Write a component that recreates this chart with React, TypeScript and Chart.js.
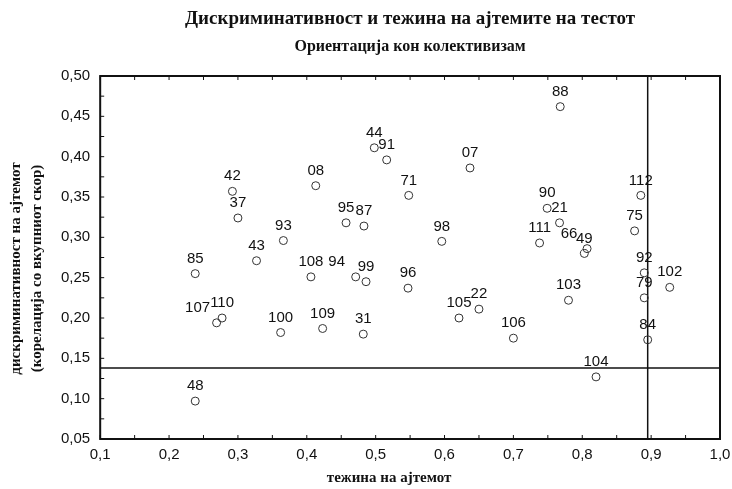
import React, { useEffect, useRef } from "react";
import { Chart, registerables } from "chart.js";

Chart.register(...registerables);

const itemLabels = ["44", "91", "42", "08", "37", "95", "87", "93", "43", "85", "108", "94", "99", "107", "110", "100", "109", "31", "48", "88", "07", "71", "112", "90", "21", "75", "98", "111", "66", "49", "92", "102", "79", "96", "103", "22", "105", "106", "84", "104"];
const difficulty = [0.498, 0.516, 0.292, 0.413, 0.300, 0.457, 0.483, 0.366, 0.327, 0.238, 0.406, 0.471, 0.486, 0.269, 0.277, 0.362, 0.423, 0.482, 0.238, 0.768, 0.637, 0.548, 0.885, 0.749, 0.767, 0.876, 0.596, 0.738, 0.807, 0.803, 0.890, 0.927, 0.890, 0.547, 0.780, 0.650, 0.621, 0.700, 0.895, 0.820];
const discrimination = [0.411, 0.396, 0.357, 0.364, 0.324, 0.318, 0.314, 0.296, 0.271, 0.255, 0.251, 0.251, 0.245, 0.194, 0.200, 0.182, 0.187, 0.180, 0.097, 0.462, 0.386, 0.352, 0.352, 0.336, 0.318, 0.308, 0.295, 0.293, 0.286, 0.280, 0.256, 0.238, 0.225, 0.237, 0.222, 0.211, 0.200, 0.175, 0.173, 0.127];

const discriminationCutoff = 0.138;
const difficultyCutoff = 0.895;
const xRange = [0.1, 1.0];
const yRange = [0.05, 0.5];

const titleText = "Дискриминативност и тежина на ајтемите на тестот";
const subtitleText = "Ориентација кон колективизам";
const xTitle = "тежина на ајтемот";
const yTitle = ["дискриминативност на ајтемот", "(корелација со вкупниот скор)"];

// label nudges (px) for crowded labels
const labelShift: Record<string, number> = { "107": -19, "66": -18, "94": -19 };

const SANS = "'Liberation Sans', Arial, sans-serif";
const SERIF = "'Liberation Serif', 'Times New Roman', serif";

const pointLabelsPlugin = {
  id: "pointLabels",
  afterDatasetsDraw(chart: any) {
    const meta = chart.getDatasetMeta(0);
    const ctx = chart.ctx;
    ctx.save();
    ctx.font = `15px ${SANS}`;
    ctx.fillStyle = "#111";
    ctx.textAlign = "center";
    ctx.textBaseline = "middle";
    meta.data.forEach((pt: any, i: number) => {
      const lab = itemLabels[i];
      const dx = labelShift[lab] || 0;
      ctx.fillText(lab, pt.x + dx, pt.y - 15);
    });
    ctx.restore();
  },
};

const framePlugin = {
  id: "frame",
  afterDraw(chart: any) {
    const { ctx, chartArea: a, scales } = chart;
    ctx.save();
    ctx.strokeStyle = "#111";
    ctx.lineWidth = 2;
    ctx.strokeRect(a.left, a.top, a.right - a.left, a.bottom - a.top);
    ctx.lineWidth = 1;
    ctx.beginPath();
    for (let v = xRange[0]; v <= xRange[1] + 1e-9; v += 0.05) {
      const x = scales.x.getPixelForValue(v);
      ctx.moveTo(x, a.bottom);
      ctx.lineTo(x, a.bottom - 4);
      ctx.moveTo(x, a.top);
      ctx.lineTo(x, a.top + 4);
    }
    for (let v = yRange[0]; v <= yRange[1] + 1e-9; v += 0.025) {
      const y = scales.y.getPixelForValue(v);
      ctx.moveTo(a.left, y);
      ctx.lineTo(a.left + 4, y);
    }
    ctx.stroke();
    ctx.restore();
  },
};

const axisTitlesPlugin = {
  id: "axisTitles",
  afterDraw(chart: any) {
    const { ctx, chartArea: a } = chart;
    ctx.save();
    ctx.fillStyle = "#111";
    ctx.textAlign = "center";
    ctx.textBaseline = "middle";
    ctx.font = `bold 15px ${SERIF}`;
    ctx.fillText(xTitle, (a.left + a.right) / 2 - 21, 478);
    const cy = (a.top + a.bottom) / 2 + 11;
    const xs = [16, 37];
    yTitle.forEach((line, i) => {
      ctx.save();
      ctx.translate(xs[i], cy);
      ctx.rotate(-Math.PI / 2);
      ctx.fillText(line, 0, 0);
      ctx.restore();
    });
    ctx.restore();
  },
};

export default function App() {
  const ref = useRef<HTMLCanvasElement>(null);
  useEffect(() => {
    document.body.style.margin = "0";
    const points = difficulty.map((x, i) => ({ x, y: discrimination[i] }));
    const chart = new Chart(ref.current!, {
      type: "scatter",
      data: {
        datasets: [
          {
            data: points,
            pointRadius: 4,
            pointHoverRadius: 4,
            pointBorderWidth: 1,
            pointBorderColor: "#333",
            pointBackgroundColor: "rgba(255,255,255,0)",
          },
          {
            data: [
              { x: xRange[0], y: discriminationCutoff },
              { x: xRange[1], y: discriminationCutoff },
            ],
            showLine: true,
            pointRadius: 0,
            borderColor: "#111",
            borderWidth: 1.5,
          },
          {
            data: [
              { x: difficultyCutoff, y: yRange[0] },
              { x: difficultyCutoff, y: yRange[1] },
            ],
            showLine: true,
            pointRadius: 0,
            borderColor: "#111",
            borderWidth: 1.5,
          },
        ],
      },
      options: {
        responsive: false,
        animation: false,
        layout: { padding: { left: 51, right: 0, top: 0, bottom: 18 } },
        plugins: {
          legend: { display: false },
          tooltip: { enabled: false },
          title: {
            display: true,
            fullSize: false,
            text: titleText,
            color: "#111",
            font: { family: SERIF, size: 19, weight: "bold" },
            padding: { top: 8, bottom: 6.6 },
          },
          subtitle: {
            display: true,
            fullSize: false,
            text: subtitleText,
            color: "#111",
            font: { family: SERIF, size: 16, weight: "bold" },
            padding: { top: 0, bottom: 19.4 },
          },
        },
        scales: {
          x: {
            type: "linear",
            min: xRange[0],
            max: xRange[1],
            grid: { display: false, drawTicks: false },
            border: { display: false },
            afterFit: (s: any) => {
              s.paddingRight = 12;
            },
            ticks: {
              stepSize: 0.1,
              padding: 7,
              color: "#111",
              font: { family: SANS, size: 15 },
              callback: (v: any) => Number(v).toFixed(1).replace(".", ","),
            },
          },
          y: {
            type: "linear",
            min: yRange[0],
            max: yRange[1],
            grid: { display: false, drawTicks: false },
            border: { display: false },
            ticks: {
              stepSize: 0.05,
              padding: 10,
              color: "#111",
              font: { family: SANS, size: 15 },
              callback: (v: any) => Number(v).toFixed(2).replace(".", ","),
            },
          },
        },
      },
      plugins: [pointLabelsPlugin, framePlugin, axisTitlesPlugin],
    });
    return () => chart.destroy();
  }, []);
  return <canvas ref={ref} width={732} height={489} style={{ display: "block" }} />;
}
